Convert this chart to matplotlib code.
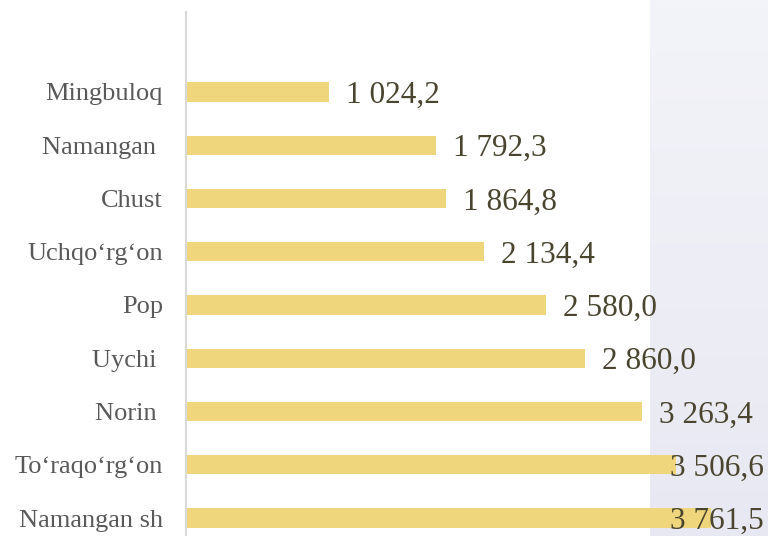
import matplotlib
matplotlib.use("Agg")
import matplotlib.pyplot as plt
import numpy as np
from matplotlib.colors import LinearSegmentedColormap

categories = ["Namangan sh", "To\u2018raqo\u2018rg\u2018on", "Norin ", "Uychi ", "Pop",
              "Uchqo\u2018rg\u2018on", "Chust", "Namangan ", "Mingbuloq"]
values = [3761.5, 3506.6, 3263.4, 2860.0, 2580.0, 2134.4, 1864.8, 1792.3, 1024.2]
value_labels = ["3 761,5", "3 506,6", "3 263,4", "2 860,0", "2 580,0",
                "2 134,4", "1 864,8", "1 792,3", "1 024,2"]

plt.rcParams['font.family'] = ['Liberation Serif', 'DejaVu Serif']

W, H, DPI = 768, 536, 100
fig = plt.figure(figsize=(W / DPI, H / DPI), dpi=DPI)
fig.patch.set_facecolor('white')

# right-side light panel with gentle gradient
bg = fig.add_axes([650 / W, 0, (W - 650) / W, 1], zorder=0)
grad = np.linspace(0, 1, 256).reshape(-1, 1)
cmap = LinearSegmentedColormap.from_list('g', ['#f3f4f9', '#e8e8f2'])
bg.imshow(grad, aspect='auto', cmap=cmap, extent=[0, 1, 1, 0])
bg.set_axis_off()

ax = fig.add_axes([186 / W, 0, (W - 186) / W, (H - 12) / H], zorder=1)
ax.patch.set_alpha(0)

y = np.arange(len(categories))
ax.barh(y, values, height=0.36, color='#efd57b', zorder=2)

xmax = (W - 186) / 0.1396
ax.set_xlim(0, xmax)
ax.set_ylim(-0.338, 9.502)

ax.set_yticks(y)
ax.set_yticklabels(categories, fontsize=19, color='#595959')
ax.tick_params(axis='y', length=0, pad=16.5)
ax.set_xticks([])

for s in ['top', 'right', 'bottom']:
    ax.spines[s].set_visible(False)
ax.spines['left'].set_color('#d9d9d9')
ax.spines['left'].set_linewidth(1.5)

offset = 17 / 0.1396
limit = (670 - 186) / 0.1396
for yi, v, lab in zip(y, values, value_labels):
    x = min(v + offset, limit)
    ax.text(x, yi, lab, ha='left', va='center_baseline', fontsize=22.5,
            color='#49452f', zorder=3)

fig.savefig('out.png', dpi=DPI)
